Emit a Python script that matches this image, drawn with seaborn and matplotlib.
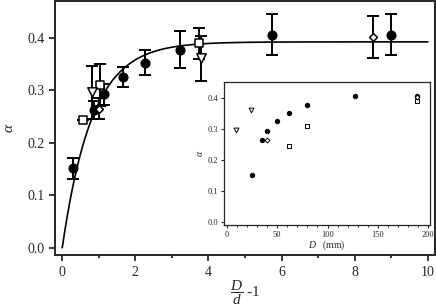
import numpy as np
import seaborn as sns
import matplotlib.pyplot as plt

# values
circ_x = [0.29, 0.86, 1.13, 1.65, 2.27, 3.22, 5.75, 8.99]
circ_D = [24.3, 34.8, 40.2, 50.1, 62.1, 79.3, 127.5, 189]
circ_y = [0.151, 0.262, 0.292, 0.326, 0.352, 0.377, 0.406, 0.406]
circ_err = [0.02, 0.017, 0.02, 0.019, 0.024, 0.035, 0.039, 0.039]

sq_x = [0.57, 1.02, 3.75]
sq_D = [61.8, 79.3, 189]
sq_y = [0.243, 0.309, 0.389]
sq_err = [0.0, 0.04, 0.03]

tri_x = [0.81, 3.80]
tri_D = [8.6, 24.0]
tri_y = [0.296, 0.361]
tri_err = [0.05, 0.043]

dia_x = [1.00, 8.50]
dia_D = [40.2, 189]
dia_y = [0.265, 0.401]
dia_err = [0.02, 0.04]

# saturating fit alpha = a (1 - exp(-x/b))
fit_a = 0.392
fit_b = 0.82

sns.set_style("ticks")
plt.rcParams["font.family"] = ["Liberation Serif", "DejaVu Serif"]
plt.rcParams["mathtext.fontset"] = "custom"
plt.rcParams["mathtext.rm"] = "Liberation Serif"
plt.rcParams["mathtext.it"] = "Liberation Serif:italic"

fig = plt.figure(figsize=(4.36, 3.07), dpi=100)
ax = fig.add_axes([0.126, 0.169, 0.872, 0.828])

xfit = np.linspace(0, 10, 300)
yfit = fit_a * (1 - np.exp(-xfit / fit_b))
sns.lineplot(x=xfit, y=yfit, color="black", lw=1.2, ax=ax)

series = [
    (circ_x, circ_y, circ_err, "o", "black", 38),
    (sq_x, sq_y, sq_err, "s", "white", 40),
    (tri_x, tri_y, tri_err, "v", "white", 46),
    (dia_x, dia_y, dia_err, "D", "white", 16),
]
for x, y, e, m, fc, s in series:
    ax.errorbar(x, y, yerr=e, fmt="none", ecolor="black", elinewidth=1.4,
                capsize=4, capthick=1.4, zorder=2)
for x, y, e, m, fc, s in series:
    sns.scatterplot(x=x, y=y, marker=m, color=fc, edgecolor="black",
                    linewidth=1.1, s=s, ax=ax, zorder=3)

ax.set_xlim(-0.2, 10.2)
ax.set_ylim(-0.014, 0.47)
ax.set_xticks([0, 2, 4, 6, 8, 10])
ax.set_xticks([1, 3, 5, 7, 9], minor=True)
ax.set_yticks([0.0, 0.1, 0.2, 0.3, 0.4])
ax.set_yticklabels(["0.0", "0.1", "0.2", "0.3", "0.4"])
ax.tick_params(axis="both", which="major", direction="out", length=4, width=1.3,
               labelsize=10)
ax.tick_params(axis="x", which="minor", direction="out", length=2.5, width=1.3)
for sp in ax.spines.values():
    sp.set_linewidth(1.4)
ax.set_xlabel(r"$\dfrac{\mathit{D}}{\mathit{d}}$ -1", fontsize=11, labelpad=0)
ax.set_ylabel(r"$\alpha$", fontsize=11, labelpad=8)

# inset
ins = fig.add_axes([0.514, 0.266, 0.472, 0.466])
inset_series = [
    (circ_D, circ_y, "o", "black", 10),
    (sq_D, sq_y, "s", "white", 10),
    (tri_D, tri_y, "v", "white", 12),
    (dia_D, dia_y, "D", "white", 6),
]
for x, y, m, fc, s in inset_series:
    sns.scatterplot(x=x, y=y, marker=m, color=fc, edgecolor="black",
                    linewidth=0.7, s=s, ax=ins, zorder=3)
ins.set_xlim(-3, 202)
ins.set_ylim(-0.012, 0.45)
ins.set_xticks([0, 50, 100, 150, 200])
ins.set_xticks(np.arange(10, 200, 10), minor=True)
ins.set_yticks([0.0, 0.1, 0.2, 0.3, 0.4])
ins.set_yticklabels(["0.0", "0.1", "0.2", "0.3", "0.4"])
ins.tick_params(axis="both", which="major", direction="out", length=2.5, width=0.8,
                labelsize=6, pad=1.5)
ins.tick_params(axis="x", which="minor", direction="out", length=1.5, width=0.8)
for sp in ins.spines.values():
    sp.set_linewidth(0.9)
ins.set_xlabel(r"$\mathit{D}$   (mm)", fontsize=7, labelpad=0)
ins.set_ylabel(r"$\alpha$", fontsize=7, labelpad=2)

fig.savefig("out.png", dpi=100)
